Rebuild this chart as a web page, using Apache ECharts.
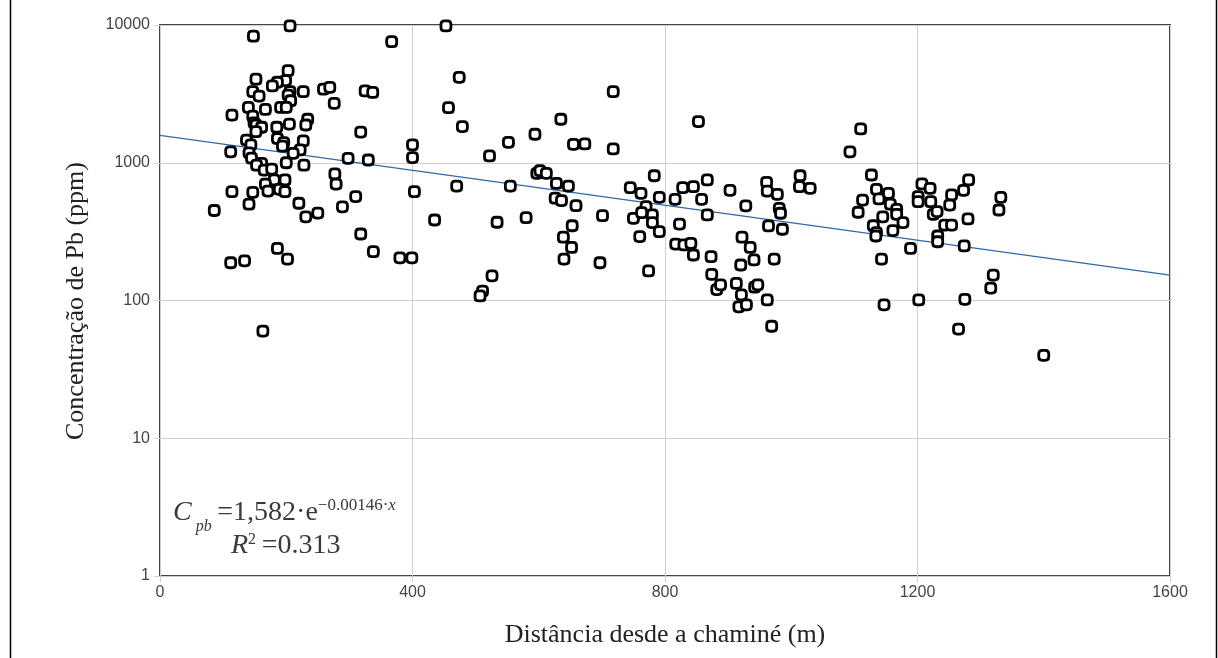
<!DOCTYPE html>
<html>
<head>
<meta charset="utf-8">
<script src="https://cdn.jsdelivr.net/npm/echarts@6/dist/echarts.min.js"></script>
<style>
    html, body { margin: 0; padding: 0; background: #fff; }
    #myEchartNode { width: 1218px; height: 658px; }
</style>
</head>
<body>
<div id="myEchartNode"></div>
<script>
; (function () {

    // distância desde a chaminé (m)
    var distX = [
        206, 148, 203, 152, 199, 186, 178, 147, 157, 206, 203, 207, 227, 259, 269, 276,
        140, 167, 191, 200, 114, 147, 149, 152, 161, 185, 205, 234, 231, 152, 186, 137,
        144, 196, 194, 227, 112, 141, 222, 211, 145, 161, 153, 200, 228, 165, 177, 277,
        279, 181, 198, 167, 114, 147, 171, 189, 198, 220, 141, 86, 250, 231, 186, 202,
        112, 134, 163, 453, 367, 474, 325, 337, 457, 479, 318, 400, 400, 298, 330, 522,
        552, 594, 635, 655, 597, 602, 612, 628, 647, 470, 555, 403, 310, 289, 626, 636,
        659, 318, 338, 380, 399, 435, 534, 580, 653, 639, 652, 640, 526, 511, 507, 718,
        673, 718, 853, 783, 745, 762, 791, 770, 816, 828, 845, 867, 858, 903, 928, 961,
        962, 978, 1014, 1013, 1030, 981, 701, 697, 750, 763, 780, 780, 791, 760, 774, 823,
        867, 817, 830, 841, 845, 873, 874, 882, 888, 913, 921, 917, 929, 922, 935, 941,
        920, 942, 947, 962, 969, 964, 983, 986, 973, 1110, 1093, 1127, 1135, 1154, 1139, 1113,
        1157, 1106, 1167, 1167, 1177, 1145, 1130, 1207, 1220, 1201, 1201, 1221, 1225, 1231, 1254, 1251,
        1273, 1281, 1280, 1243, 1254, 1332, 1329, 1135, 1134, 1161, 1189, 1143, 1147, 1202, 1232, 1232,
        1274, 1320, 1316, 1275, 1265, 1400
    ];
    // concentração de Pb (ppm)
    var concPb = [
        9840, 8300, 4660, 4040, 3950, 3840, 3610, 3280, 3050, 3280, 3100, 2820, 3280, 3420, 3530, 2700,
        2520, 2440, 2520, 2520, 2220, 2180, 1950, 1880, 1810, 1810, 1910, 2070, 1880, 1680, 1500, 1460,
        1350, 1400, 1320, 1440, 1200, 1180, 1240, 1170, 1080, 990, 960, 1000, 960, 885, 900, 830,
        700, 750, 750, 700, 617, 610, 623, 641, 617, 508, 500, 450, 431, 405, 239, 200,
        188, 194, 60, 9840, 7570, 4170, 3320, 3240, 2510, 1830, 1670, 1350, 1090, 1077, 1047, 1120,
        1406, 1610, 2070, 1360, 838, 875, 838, 708, 677, 677, 677, 617, 568, 479, 553, 531,
        488, 304, 226, 204, 204, 384, 370, 399, 349, 288, 243, 200, 151, 117, 108, 3280,
        1370, 1260, 1990, 805, 659, 600, 561, 480, 543, 659, 670, 750, 543, 631, 487, 721,
        623, 590, 805, 670, 652, 467, 413, 188, 395, 434, 418, 368, 316, 291, 164, 359,
        418, 257, 253, 260, 214, 208, 155, 120, 130, 133, 110, 90, 93, 288, 243, 197,
        181, 125, 130, 101, 65, 348, 430, 329, 200, 1760, 1200, 815, 641, 600, 546, 536,
        500, 437, 459, 422, 368, 405, 349, 702, 652, 568, 522, 522, 422, 442, 584, 493,
        631, 750, 391, 353, 353, 561, 454, 311, 294, 322, 239, 200, 93, 101, 294, 267,
        249, 153, 123, 102, 62, 40
    ];

    // linha de tendência (ajuste exponencial), extremos do eixo
    var trendX = [0, 1600];
    var trendY = [1582, 153];

    var xTicks = [0, 400, 800, 1200, 1600];
    var yTicks = [1, 10, 100, 1000, 10000];

    var points = [];
    for (var i = 0; i < distX.length; i++) {
        points.push([distX[i], concPb[i]]);
    }
    var trend = [];
    for (var j = 0; j < trendX.length; j++) {
        trend.push([trendX[j], trendY[j]]);
    }

    var serif = '"Liberation Serif", "DejaVu Serif", serif';
    var sans = '"Liberation Sans", Arial, sans-serif';
    var eqColor = '#3a3a3a';

    var myEchartObj = echarts.init(document.getElementById('myEchartNode'));
    var option = {
        backgroundColor: '#fff',
        animation: false,
        grid: {
            left: 160,
            right: 48,
            top: 25,
            bottom: 82,
            show: true,
            backgroundColor: '#fff',
            borderColor: '#444',
            borderWidth: 2
        },
        xAxis: {
            type: 'value',
            min: xTicks[0],
            max: xTicks[xTicks.length - 1],
            interval: 400,
            axisLine: { show: false },
            axisTick: {
                show: true,
                length: 6,
                lineStyle: { color: '#cfcfcf' }
            },
            axisLabel: {
                color: '#444',
                fontSize: 16,
                fontFamily: sans,
                margin: 9,
                formatter: function (v) { return String(v); }
            },
            splitLine: {
                show: true,
                lineStyle: { color: '#cfcfcf', width: 1 }
            }
        },
        yAxis: {
            type: 'log',
            logBase: 10,
            min: yTicks[0],
            max: yTicks[yTicks.length - 1],
            axisLine: { show: false },
            axisTick: {
                show: true,
                length: 6,
                lineStyle: { color: '#cfcfcf' }
            },
            minorTick: { show: false },
            axisLabel: {
                color: '#444',
                fontSize: 16,
                fontFamily: sans,
                margin: 10,
                formatter: function (v) { return String(Math.round(v)); }
            },
            splitLine: {
                show: true,
                lineStyle: { color: '#cfcfcf', width: 1 }
            }
        },
        series: [
            {
                name: 'tendência',
                type: 'line',
                data: trend,
                symbol: 'none',
                z: 2,
                lineStyle: { color: '#2f6aa8', width: 1.2 },
                silent: true
            },
            {
                name: 'Pb',
                type: 'scatter',
                data: points,
                // quadrado de cantos bem arredondados
                symbol: 'path://M3.5,0 H6.5 Q10,0 10,3.5 V6.5 Q10,10 6.5,10 H3.5 Q0,10 0,6.5 V3.5 Q0,0 3.5,0 Z',
                symbolSize: 10,
                z: 3,
                itemStyle: {
                    color: '#fff',
                    borderColor: '#000',
                    borderWidth: 2.8,
                    opacity: 1
                }
            }
        ],
        graphic: [
            // moldura exterior
            { type: 'line', shape: { x1: 10.5, y1: 0, x2: 10.5, y2: 658 }, style: { stroke: '#000', lineWidth: 1.5 } },
            { type: 'line', shape: { x1: 1216.5, y1: 0, x2: 1216.5, y2: 658 }, style: { stroke: '#000', lineWidth: 1.5 } },
            {
                type: 'text',
                x: 665,
                y: 635,
                style: {
                    text: 'Distância desde a chaminé (m)',
                    font: '26px ' + serif,
                    fill: '#222',
                    align: 'center',
                    verticalAlign: 'middle'
                }
            },
            {
                type: 'text',
                x: 76,
                y: 301,
                rotation: Math.PI / 2,
                style: {
                    text: 'Concentração de Pb (ppm)',
                    font: '26px ' + serif,
                    fill: '#222',
                    align: 'center',
                    verticalAlign: 'middle'
                }
            },
            {
                type: 'text',
                x: 173,
                y: 527,
                style: {
                    text: '{i|C}{sub| pb}{n|\u2009=1,582·e}{sup|−0.00146·}{supi|x}',
                    fill: eqColor,
                    verticalAlign: 'bottom',
                    rich: {
                        i: { font: 'italic 28px ' + serif, fill: eqColor, verticalAlign: 'bottom' },
                        sub: { font: 'italic 16px ' + serif, fill: eqColor, padding: [0, 0, -8, 0], verticalAlign: 'bottom' },
                        n: { font: '28px ' + serif, fill: eqColor, verticalAlign: 'bottom' },
                        sup: { font: '17px ' + serif, fill: eqColor, padding: [0, 0, 13, 0], verticalAlign: 'bottom' },
                        supi: { font: 'italic 17px ' + serif, fill: eqColor, padding: [0, 0, 13, 0], verticalAlign: 'bottom' }
                    }
                }
            },
            {
                type: 'text',
                x: 231,
                y: 560,
                style: {
                    text: '{i|R}{sup|2}{n|\u2009=0.313}',
                    fill: eqColor,
                    verticalAlign: 'bottom',
                    rich: {
                        i: { font: 'italic 28px ' + serif, fill: eqColor, verticalAlign: 'bottom' },
                        sup: { font: '16px ' + serif, fill: eqColor, padding: [0, 0, 12, 0], verticalAlign: 'bottom' },
                        n: { font: '28px ' + serif, fill: eqColor, verticalAlign: 'bottom' }
                    }
                }
            }
        ]
    };

    myEchartObj.setOption(option);
})();
</script>
</body>
</html>
